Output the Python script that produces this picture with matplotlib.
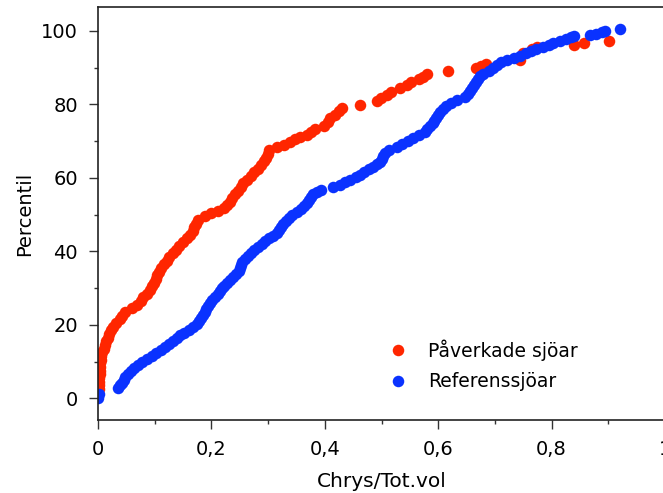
import numpy as np
import matplotlib
matplotlib.use("Agg")
import matplotlib.pyplot as plt
from matplotlib.ticker import FuncFormatter, MultipleLocator


# Påverkade sjöar: andel Chrys av totalvolym och motsvarande percentil
red_x = [0.000, 0.001, 0.001, 0.002, 0.002, 0.003, 0.003, 0.004, 0.004, 0.005,
         0.006, 0.007, 0.010, 0.012, 0.014, 0.017, 0.020, 0.023, 0.027, 0.031,
         0.038, 0.043, 0.048, 0.060, 0.068, 0.075, 0.080, 0.086, 0.092, 0.096,
         0.099, 0.102, 0.104, 0.107, 0.111, 0.116, 0.121, 0.126, 0.132, 0.137,
         0.143, 0.150, 0.157, 0.163, 0.167, 0.170, 0.173, 0.176, 0.189, 0.200,
         0.212, 0.222, 0.228, 0.232, 0.237, 0.242, 0.247, 0.252, 0.256, 0.262,
         0.269, 0.276, 0.282, 0.288, 0.293, 0.297, 0.299, 0.301, 0.315, 0.328,
         0.339, 0.347, 0.356, 0.368, 0.376, 0.383, 0.398, 0.405, 0.410, 0.418,
         0.425, 0.430, 0.462, 0.492, 0.499, 0.510, 0.517, 0.532, 0.545, 0.552,
         0.566, 0.574, 0.580, 0.618, 0.667, 0.676, 0.684, 0.744, 0.750, 0.765,
         0.774, 0.840, 0.858, 0.901]
red_p = [1.5, 2.5, 3.5, 4.5, 5.5, 6.5, 7.5, 8.5, 9.5, 10.5,
         11.5, 12.5, 13.5, 14.5, 15.5, 16.5, 17.5, 18.5, 19.5, 20.5,
         21.5, 22.5, 23.5, 24.5, 25.5, 26.5, 27.5, 28.5, 29.5, 30.5,
         31.5, 32.5, 33.5, 34.5, 35.5, 36.5, 37.5, 38.5, 39.5, 40.5,
         41.5, 42.5, 43.5, 44.5, 45.5, 46.5, 47.5, 48.5, 49.5, 50.5,
         51.0, 51.8, 52.6, 53.5, 54.5, 55.5, 56.5, 57.5, 58.5, 59.5,
         60.5, 61.5, 62.5, 63.5, 64.5, 65.5, 66.5, 67.5, 68.3, 69.0,
         69.8, 70.5, 71.2, 71.8, 72.5, 73.3, 74.2, 75.2, 76.2, 77.2,
         78.2, 78.9, 79.8, 80.8, 81.6, 82.6, 83.5, 84.4, 85.3, 86.1,
         86.8, 87.5, 88.4, 89.2, 89.8, 90.4, 91.1, 92.2, 93.9, 95.0,
         95.7, 96.2, 96.8, 97.3]

# Referenssjöar
blue_x = [0.000, 0.002, 0.036, 0.039, 0.042, 0.045, 0.048, 0.053, 0.058, 0.064,
          0.070, 0.078, 0.087, 0.095, 0.102, 0.111, 0.118, 0.125, 0.132, 0.139,
          0.145, 0.151, 0.160, 0.168, 0.175, 0.179, 0.182, 0.185, 0.188, 0.191,
          0.194, 0.197, 0.201, 0.206, 0.211, 0.215, 0.218, 0.222, 0.228, 0.233,
          0.238, 0.243, 0.248, 0.251, 0.252, 0.254, 0.259, 0.265, 0.270, 0.276,
          0.282, 0.289, 0.295, 0.302, 0.309, 0.315, 0.319, 0.323, 0.327, 0.331,
          0.336, 0.343, 0.351, 0.358, 0.363, 0.368, 0.373, 0.376, 0.379, 0.386,
          0.394, 0.415, 0.426, 0.436, 0.445, 0.455, 0.462, 0.470, 0.478, 0.485,
          0.492, 0.497, 0.500, 0.503, 0.507, 0.514, 0.527, 0.537, 0.546, 0.556,
          0.566, 0.576, 0.581, 0.585, 0.590, 0.593, 0.596, 0.600, 0.604, 0.608,
          0.614, 0.622, 0.633, 0.648, 0.653, 0.656, 0.659, 0.663, 0.667, 0.670,
          0.674, 0.679, 0.689, 0.696, 0.704, 0.711, 0.722, 0.733, 0.744, 0.755,
          0.764, 0.773, 0.784, 0.795, 0.803, 0.815, 0.826, 0.834, 0.840, 0.868,
          0.878, 0.889, 0.895, 0.920]
blue_p = [0.0, 1.2, 2.7, 3.5, 4.3, 5.1, 5.9, 6.7, 7.5, 8.3,
          9.1, 9.9, 10.7, 11.5, 12.3, 13.1, 13.9, 14.7, 15.5, 16.3,
          17.1, 17.9, 18.7, 19.5, 20.3, 21.1, 21.9, 22.7, 23.5, 24.3,
          25.1, 25.9, 26.7, 27.5, 28.3, 29.1, 29.9, 30.7, 31.5, 32.3,
          33.1, 33.9, 34.7, 35.5, 36.3, 37.1, 37.9, 38.7, 39.5, 40.3,
          41.1, 41.9, 42.7, 43.5, 44.3, 45.1, 45.9, 46.7, 47.5, 48.3,
          49.1, 49.9, 50.7, 51.5, 52.3, 53.1, 53.9, 54.7, 55.5, 56.2,
          56.8, 57.4, 58.1, 58.8, 59.5, 60.2, 60.9, 61.6, 62.3, 63.0,
          63.7, 64.4, 65.2, 66.0, 66.8, 67.6, 68.4, 69.2, 70.0, 70.8,
          71.6, 72.4, 73.2, 74.0, 74.8, 75.6, 76.4, 77.2, 78.0, 78.8,
          79.6, 80.4, 81.2, 82.0, 82.8, 83.6, 84.4, 85.2, 86.0, 86.8,
          87.6, 88.4, 89.2, 90.0, 90.7, 91.4, 92.0, 92.6, 93.2, 93.9,
          94.5, 95.1, 95.7, 96.2, 96.7, 97.2, 97.7, 98.2, 98.6, 98.8,
          99.2, 99.6, 99.9, 100.4]

series_names = ["Påverkade sjöar", "Referenssjöar"]
x_ticks = [0, 0.2, 0.4, 0.6, 0.8, 1]
y_ticks = [0, 20, 40, 60, 80, 100]


def comma(v, pos):
    # svenska decimaler med komma
    s = f"{v:g}"
    return s.replace(".", ",")


fig = plt.figure(figsize=(6.63, 4.93), dpi=100)
ax = fig.add_axes([98 / 663, 73 / 493, 567 / 663, 413 / 493])

ax.plot(red_x, red_p, "o", color="#ff2600", markersize=8.3, markeredgewidth=0,
        label=series_names[0])
ax.plot(blue_x, blue_p, "o", color="#0a32ff", markersize=8.3, markeredgewidth=0,
        label=series_names[1])

ax.set_xlim(0, 1)
ax.set_ylim(-5.9, 106.5)
ax.set_xticks(x_ticks)
ax.set_yticks(y_ticks)
ax.xaxis.set_minor_locator(MultipleLocator(0.1))
ax.yaxis.set_minor_locator(MultipleLocator(10))
ax.xaxis.set_major_formatter(FuncFormatter(comma))

ax.tick_params(which="major", direction="out", length=6.5, width=1,
               labelsize=14, pad=8, color="#333333")
ax.tick_params(which="minor", direction="out", length=3, width=1,
               color="#333333")
for side in ["left", "bottom", "top", "right"]:
    ax.spines[side].set_linewidth(1.2)
    ax.spines[side].set_color("#222222")

ax.set_xlabel("Chrys/Tot.vol", fontsize=14.5)
ax.set_ylabel("Percentil", fontsize=14)
ax.xaxis.set_label_coords(0.5, -0.125)
ax.yaxis.set_label_coords(-0.113, 0.5)

ax.legend(loc="center left", bbox_to_anchor=(0.512, 0.133), frameon=False,
          fontsize=13.5, handlelength=1.0, handletextpad=1.1,
          labelspacing=0.62, borderpad=0, borderaxespad=0)

fig.savefig("out.png", dpi=100)
